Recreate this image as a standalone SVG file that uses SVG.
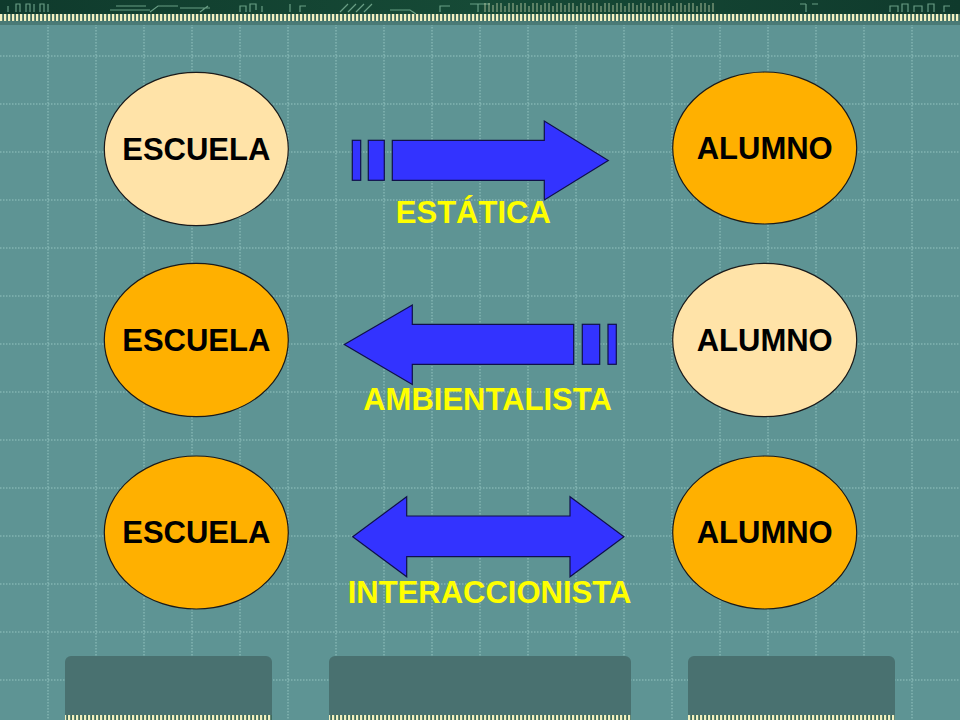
<svg xmlns="http://www.w3.org/2000/svg" width="960" height="720" viewBox="0 0 960 720">
<defs>
<style>
.grid{stroke:#b8e4e0;stroke-width:1;stroke-dasharray:1.5 1.5;opacity:0.6}
.light{fill:#ffe3a8;stroke:#1a1a1a;stroke-width:1.2}
.orange{fill:#ffb000;stroke:#1a1a1a;stroke-width:1.2}
.nodetext{font-family:"Liberation Sans",Arial,sans-serif;font-weight:bold;font-size:31px;fill:#000;text-anchor:middle}
.label{font-family:"Liberation Sans",Arial,sans-serif;font-weight:bold;font-size:31px;fill:#ffff00;text-anchor:middle}
.arrow{fill:#3333ff;stroke:#10104a;stroke-width:1.2;stroke-linejoin:miter}
.box{fill:#497170}
</style>
<pattern id="stripes" x="0" y="0" width="4" height="10" patternUnits="userSpaceOnUse">
<rect x="0" y="0" width="4" height="10" fill="#3f6a5c"/>
<rect x="0" y="0" width="2.2" height="10" fill="#f2f0c0"/>
</pattern>
<linearGradient id="band" x1="0" y1="0" x2="1" y2="0">
<stop offset="0" stop-color="#0f3a2c"/>
<stop offset="0.5" stop-color="#164a36"/>
<stop offset="1" stop-color="#0f3a2c"/>
</linearGradient>
</defs>
<rect x="0" y="0" width="960" height="720" fill="#5e9494"/>
<g id="grid">
<path class="grid" d="M48 24V720M96 24V720M144 24V720M192 24V720M240 24V720M288 24V720M336 24V720M384 24V720M432 24V720M480 24V720M528 24V720M576 24V720M624 24V720M672 24V720M720 24V720M768 24V720M816 24V720M864 24V720M912 24V720"/>
<path class="grid" d="M0 56H960M0 104H960M0 152H960M0 200H960M0 248H960M0 296H960M0 344H960M0 392H960M0 440H960M0 488H960M0 536H960M0 584H960M0 632H960M0 680H960"/>
</g>
<g id="top-banner">
<rect x="0" y="0" width="960" height="14" fill="url(#band)"/>
<g fill="none" stroke="#7fb59a" stroke-width="1.2" opacity="0.8">
<path d="M8 12V6M16 12V4h4v8M26 12V4h4v8M34 12V4M40 12V4h4v8M48 12V4"/>
<path d="M110 10h40M116 6h30M150 12l8-6h20M180 8h30M200 12l8-6"/>
<path d="M240 12V6h6v6M250 12V4h6v6M262 12V6M290 12V4M300 12V6h6"/>
<path d="M340 12l8-8M348 12l8-8M356 12l8-8M364 12l8-8M390 10h20l6 4M440 12V6h10"/>
<path d="M470 4h20M478 4v8"/>
<path d="M800 4h6M806 12V4M812 4h6"/>
<path d="M890 12V6h8v6M902 12V4h6v8M914 12V6h8v6M928 12V4h6v8M944 12V6h6"/>
</g>
<g stroke="#c9d8b0" stroke-width="1" opacity="0.8">
<path d="M485 12V3M489 12V3M493 12V5M497 12V3M501 12V3M505 12V6M509 12V3M513 12V3M517 12V5M521 12V3M525 12V3M529 12V6M533 12V3M537 12V3M541 12V5M545 12V3M549 12V3M553 12V6M557 12V3M561 12V3M565 12V5M569 12V3M573 12V3M577 12V6M581 12V3M585 12V3M589 12V5M593 12V3M597 12V3M601 12V6M605 12V3M609 12V3M613 12V5M617 12V3M621 12V3M625 12V6M629 12V3M633 12V3M637 12V5M641 12V3M645 12V3M649 12V6M653 12V3M657 12V3M661 12V5M665 12V3M669 12V3M673 12V6M677 12V3M681 12V3M685 12V5M689 12V3M693 12V3M697 12V6M701 12V3M705 12V3M709 12V5M713 12V3"/>
</g>
<rect x="0" y="14" width="960" height="7" fill="url(#stripes)"/>
<rect x="0" y="21" width="960" height="4" fill="#4a7a76"/>
</g>
<g id="bottom-boxes">
<path class="box" d="M65 720V662a6 6 0 0 1 6-6H266a6 6 0 0 1 6 6V720Z"/>
<path class="box" d="M329 720V662a6 6 0 0 1 6-6H625a6 6 0 0 1 6 6V720Z"/>
<path class="box" d="M688 720V662a6 6 0 0 1 6-6H889a6 6 0 0 1 6 6V720Z"/>
<rect x="65" y="715" width="207" height="5" fill="url(#stripes)"/>
<rect x="329" y="715" width="302" height="5" fill="url(#stripes)"/>
<rect x="688" y="715" width="207" height="5" fill="url(#stripes)"/>
</g>
<g id="connectors">
<g id="arrow-estatica">
<rect class="arrow" x="352.3" y="140.3" width="8.4" height="40"/>
<rect class="arrow" x="368.3" y="140.3" width="16" height="40"/>
<path class="arrow" d="M392.3 140.3H544.3V121L608.3 160.5L544.3 200V180.3H392.3Z"/>
</g>
<g id="arrow-ambientalista">
<path class="arrow" d="M573.7 324.3H412.3V305L344.3 344.5L412.3 384.5V364.3H573.7Z"/>
<rect class="arrow" x="582.3" y="324.3" width="17.4" height="40"/>
<rect class="arrow" x="608" y="324.3" width="8.3" height="40"/>
</g>
<g id="arrow-interaccionista">
<path class="arrow" d="M352.7 536.7L406.7 496.7V516H570V496.7L624 536.7L570 576.7V556.7H406.7V576.7Z"/>
</g>
</g>
<g id="node-escuela-1">
<ellipse class="light" cx="196.3" cy="149" rx="92" ry="76.7"/>
<text class="nodetext" x="196.3" y="159.5">ESCUELA</text>
</g>
<g id="node-alumno-1">
<ellipse class="orange" cx="764.7" cy="148" rx="92" ry="76"/>
<text class="nodetext" x="764.7" y="158.5">ALUMNO</text>
</g>
<g id="node-escuela-2">
<ellipse class="orange" cx="196.3" cy="340" rx="92" ry="76.7"/>
<text class="nodetext" x="196.3" y="351">ESCUELA</text>
</g>
<g id="node-alumno-2">
<ellipse class="light" cx="764.7" cy="340" rx="92" ry="76.7"/>
<text class="nodetext" x="764.7" y="351">ALUMNO</text>
</g>
<g id="node-escuela-3">
<ellipse class="orange" cx="196.3" cy="532.5" rx="92" ry="76.5"/>
<text class="nodetext" x="196.3" y="543">ESCUELA</text>
</g>
<g id="node-alumno-3">
<ellipse class="orange" cx="764.7" cy="532.5" rx="92" ry="76.5"/>
<text class="nodetext" x="764.7" y="543">ALUMNO</text>
</g>
<g id="labels">
<text class="label" x="473.3" y="223.3">ESTÁTICA</text>
<text class="label" x="487.5" y="410">AMBIENTALISTA</text>
<text class="label" x="489.5" y="603.3">INTERACCIONISTA</text>
</g>
</svg>
